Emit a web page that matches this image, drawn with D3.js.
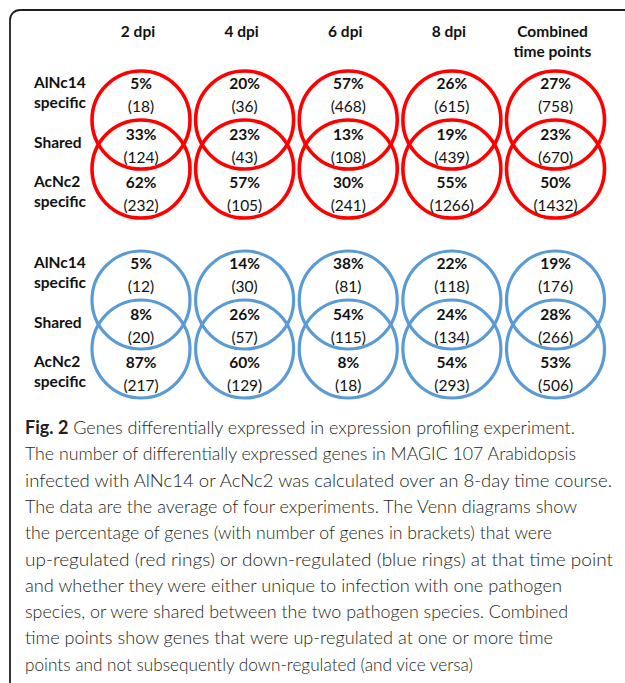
<!DOCTYPE html>
<html>
<head>
<meta charset="utf-8">
<script src="https://cdn.jsdelivr.net/npm/d3@7"></script>
<style>
  body { margin: 0; background: #fff; }
  svg { display: block; }
</style>
</head>
<body>
<svg id="chart"></svg>
<script>
// time points (columns) and the three Venn regions (rows)
const timePoints = ["2 dpi", "4 dpi", "6 dpi", "8 dpi", "Combined time points"];
const regions = ["AlNc14 specific", "Shared", "AcNc2 specific"];

// up-regulated (red rings)
const upAlNc14Pct   = [5, 20, 57, 26, 27];
const upAlNc14Count = [18, 36, 468, 615, 758];
const upSharedPct   = [33, 23, 13, 19, 23];
const upSharedCount = [124, 43, 108, 439, 670];
const upAcNc2Pct    = [62, 57, 30, 55, 50];
const upAcNc2Count  = [232, 105, 241, 1266, 1432];

// down-regulated (blue rings)
const downAlNc14Pct   = [5, 14, 38, 22, 19];
const downAlNc14Count = [12, 30, 81, 118, 176];
const downSharedPct   = [8, 26, 54, 24, 28];
const downSharedCount = [20, 57, 115, 134, 266];
const downAcNc2Pct    = [87, 60, 8, 54, 53];
const downAcNc2Count  = [217, 129, 18, 293, 506];

const captionLines = [
  "Genes differentially expressed in expression profiling experiment.",
  "The number of differentially expressed genes in MAGIC 107 Arabidopsis",
  "infected with AlNc14 or AcNc2 was calculated over an 8-day time course.",
  "The data are the average of four experiments. The Venn diagrams show",
  "the percentage of genes (with number of genes in brackets) that were",
  "up-regulated (red rings) or down-regulated (blue rings) at that time point",
  "and whether they were either unique to infection with one pathogen",
  "species, or were shared between the two pathogen species. Combined",
  "time points show genes that were up-regulated at one or more time",
  "points and not subsequently down-regulated (and vice versa)"
];

const width = 625, height = 683;
const svg = d3.select("#chart").attr("width", width).attr("height", height);

const labelFont = "Lato, 'Open Sans', sans-serif";

// frame, cut off at right and bottom
svg.append("rect")
  .attr("x", 10).attr("y", 10)
  .attr("width", 660).attr("height", 720)
  .attr("rx", 10)
  .attr("fill", "none")
  .attr("stroke", "#231f20")
  .attr("stroke-width", 1.8);

const x = d3.scalePoint().domain(timePoints).range([141, 555.5]);
const r = 49;
const gap = 49;

// column headers
const header = svg.append("g")
  .attr("font-family", labelFont)
  .attr("font-weight", "bold")
  .attr("font-size", 15.5)
  .attr("fill", "#111")
  .attr("text-anchor", "middle");

timePoints.forEach(t => {
  const words = t === "Combined time points" ? ["Combined", "time points"] : [t];
  const tx = header.append("text").attr("x", x(t) - 3).attr("y", 37);
  words.forEach((w, i) => tx.append("tspan").attr("x", x(t) - 3).attr("dy", i ? 20 : 0).text(w));
});

function vennRow(cy, color, sw, pct, cnt) {
  const g = svg.append("g");

  // row labels
  const lab = g.append("g")
    .attr("font-family", labelFont)
    .attr("font-weight", "bold")
    .attr("font-size", 15.5)
    .attr("fill", "#111");
  const labelLines = [["AlNc14", -32], ["specific", -12], ["Shared", 28], ["AcNc2", 67], ["specific", 87]];
  labelLines.forEach(([t, dy]) => lab.append("text").attr("x", 34).attr("y", cy + dy).text(t));

  // rings
  timePoints.forEach(t => {
    [cy, cy + gap].forEach(c => {
      g.append("circle")
        .attr("cx", x(t)).attr("cy", c).attr("r", r)
        .attr("fill", "none")
        .attr("stroke", color)
        .attr("stroke-width", sw);
    });
  });

  // values
  const vals = g.append("g")
    .attr("font-family", labelFont)
    .attr("font-size", 15.5)
    .attr("fill", "#111")
    .attr("text-anchor", "middle");
  const offsets = [-31, 20, 68];
  regions.forEach((reg, ri) => {
    timePoints.forEach((t, i) => {
      vals.append("text")
        .attr("x", x(t)).attr("y", cy + offsets[ri])
        .attr("font-weight", "bold")
        .text(pct[ri][i] + "%");
      vals.append("text")
        .attr("x", x(t)).attr("y", cy + offsets[ri] + 23)
        .text("(" + cnt[ri][i] + ")");
    });
  });
}

vennRow(120, "#ff0000", 3.6,
  [upAlNc14Pct, upSharedPct, upAcNc2Pct],
  [upAlNc14Count, upSharedCount, upAcNc2Count]);
vennRow(300, "#5b9bd5", 3.2,
  [downAlNc14Pct, downSharedPct, downAcNc2Pct],
  [downAlNc14Count, downSharedCount, downAcNc2Count]);

// caption: the source is typeset ragged-right in a narrower face,
// so each line is fitted to where it ends in the figure
const captionLeft = 25;
const captionEnds = [575, 576, 612, 577, 552, 613, 562, 568, 553, 473];

const cap = svg.append("g")
  .attr("font-family", "Lato, 'Open Sans', sans-serif")
  .attr("font-weight", 300)
  .attr("font-size", 18)
  .attr("fill", "#231f20");

captionLines.forEach((line, i) => {
  const t = cap.append("text")
    .attr("x", captionLeft)
    .attr("y", 434 + i * 26.3)
    .attr("textLength", captionEnds[i] - captionLeft)
    .attr("lengthAdjust", "spacingAndGlyphs");
  if (i === 0) {
    t.append("tspan").attr("font-weight", "bold").text("Fig. 2");
    t.append("tspan").text(" " + line);
  } else {
    t.text(line);
  }
});
</script>
</body>
</html>
